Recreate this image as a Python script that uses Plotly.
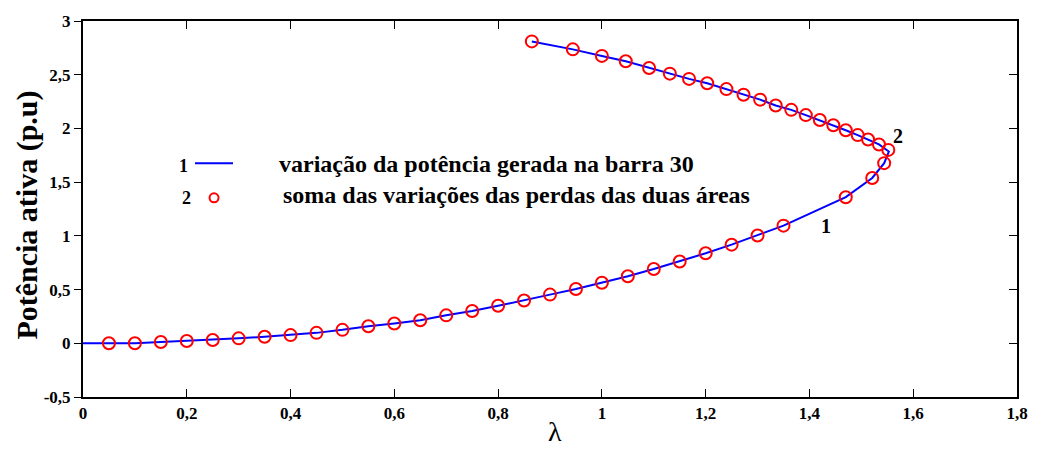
import plotly.graph_objects as go

# Circle markers (series 2): lower branch then upper branch
lam_circ = [0.05, 0.10, 0.15, 0.20, 0.25, 0.30, 0.35, 0.40, 0.45, 0.50, 0.55, 0.60, 0.65,
            0.70, 0.75, 0.80, 0.85, 0.90, 0.95, 1.00, 1.05, 1.10, 1.15, 1.20, 1.25, 1.30,
            1.35, 1.47, 1.521, 1.544,
            1.552, 1.534, 1.513, 1.493, 1.470, 1.446, 1.420, 1.393, 1.365, 1.335, 1.305,
            1.273, 1.240, 1.203, 1.168, 1.131, 1.091, 1.046, 1.000, 0.944, 0.865]
p_circ = [0.000, 0.000, 0.012, 0.021, 0.030, 0.046, 0.061, 0.076, 0.097, 0.125, 0.159, 0.184, 0.214,
          0.260, 0.300, 0.349, 0.398, 0.453, 0.505, 0.563, 0.624, 0.691, 0.762, 0.838, 0.918, 1.004,
          1.095, 1.360, 1.539, 1.677,
          1.800, 1.851, 1.897, 1.938, 1.983, 2.029, 2.078, 2.124, 2.173, 2.213, 2.268,
          2.314, 2.366, 2.421, 2.461, 2.510, 2.562, 2.626, 2.675, 2.736, 2.810]

# Line (series 1)
lam_line = [0.0] + lam_circ[:30] + [1.553] + lam_circ[31:]
p_line = [0.0] + p_circ[:30] + [1.785] + p_circ[31:]

x_tickvals = [0, 0.2, 0.4, 0.6, 0.8, 1.0, 1.2, 1.4, 1.6, 1.8]
x_ticktext = ["0", "0,2", "0,4", "0,6", "0,8", "1", "1,2", "1,4", "1,6", "1,8"]
y_tickvals = [-0.5, 0, 0.5, 1, 1.5, 2, 2.5, 3]
y_ticktext = ["-0,5", "0", "0,5", "1", "1,5", "2", "2,5", "3"]

legend_1 = "variação da potência gerada na barra 30"
legend_2 = "soma das variações das perdas das duas áreas"
y_title = "Potência ativa (p.u)"
x_title = "λ"

FONT = "Liberation Serif"

fig = go.Figure()
fig.add_trace(go.Scatter(x=lam_line, y=p_line, mode="lines",
                         line=dict(color="#0000ff", width=2), showlegend=False))
fig.add_trace(go.Scatter(x=lam_circ, y=p_circ, mode="markers",
                         marker=dict(symbol="circle-open", size=12, color="#ff0000",
                                     line=dict(width=2, color="#ff0000")),
                         showlegend=False))
fig.add_trace(go.Scatter(x=[], y=[], yaxis="y2", showlegend=False))

fig.update_layout(
    width=1040, height=449,
    margin=dict(l=83, r=23, t=17, b=51.5),
    paper_bgcolor="white", plot_bgcolor="white",
    xaxis=dict(range=[0, 1.8], tickvals=x_tickvals, ticktext=x_ticktext,
               ticks="inside", ticklen=8, tickwidth=1, tickcolor="black",
               showline=True, linewidth=2, linecolor="black", mirror="ticks",
               showgrid=False, zeroline=False,
               tickfont=dict(family=FONT, size=17, color="black", weight="bold")),
    yaxis=dict(range=[-0.5, 3], tickvals=y_tickvals, ticktext=y_ticktext,
               ticks="outside", ticklen=7, tickwidth=1, tickcolor="black",
               showline=True, linewidth=2, linecolor="black", mirror=True,
               showgrid=False, zeroline=False,
               tickfont=dict(family=FONT, size=17, color="black", weight="bold")),
    yaxis2=dict(range=[-0.5, 3], tickvals=y_tickvals, overlaying="y", side="right",
                ticks="inside", ticklen=8, tickwidth=1, tickcolor="black",
                showticklabels=False, showgrid=False, zeroline=False, showline=False),
)

ann = [
    dict(text=y_title, x=-0.06, y=0.485, textangle=-90,
         font=dict(family=FONT, size=30, color="black", weight="bold")),
    dict(text=x_title, x=0.5054, y=-0.0907,
         font=dict(family=FONT, size=28, color="black")),
    dict(text="1", x=0.1071, y=0.6137, font=dict(family=FONT, size=18, color="black", weight="bold")),
    dict(text=legend_1, x=0.2077, y=0.6196, xanchor="left",
         font=dict(family=FONT, size=24, color="black", weight="bold")),
    dict(text="2", x=0.1103, y=0.5296, font=dict(family=FONT, size=18, color="black", weight="bold")),
    dict(text=legend_2, x=0.2120, y=0.5375, xanchor="left",
         font=dict(family=FONT, size=24, color="black", weight="bold")),
    dict(text="2", x=0.8726, y=0.6938, font=dict(family=FONT, size=20, color="black", weight="bold")),
    dict(text="1", x=0.7955, y=0.4560, font=dict(family=FONT, size=20, color="black", weight="bold")),
]
for a in ann:
    a.setdefault("xanchor", "center")
    fig.add_annotation(xref="paper", yref="paper", yanchor="middle", showarrow=False, **a)

fig.add_shape(type="line", xref="paper", yref="paper", x0=0.1199, x1=0.1606, y0=0.6215, y1=0.6215,
              line=dict(color="#0000ff", width=2))
fig.add_shape(type="circle", xref="paper", yref="paper", xsizemode="pixel", ysizemode="pixel",
              xanchor=0.1403, yanchor=0.5296, x0=-4.5, x1=4.5, y0=-4.5, y1=4.5,
              line=dict(color="#ff0000", width=2))

fig.write_html("out.html")
